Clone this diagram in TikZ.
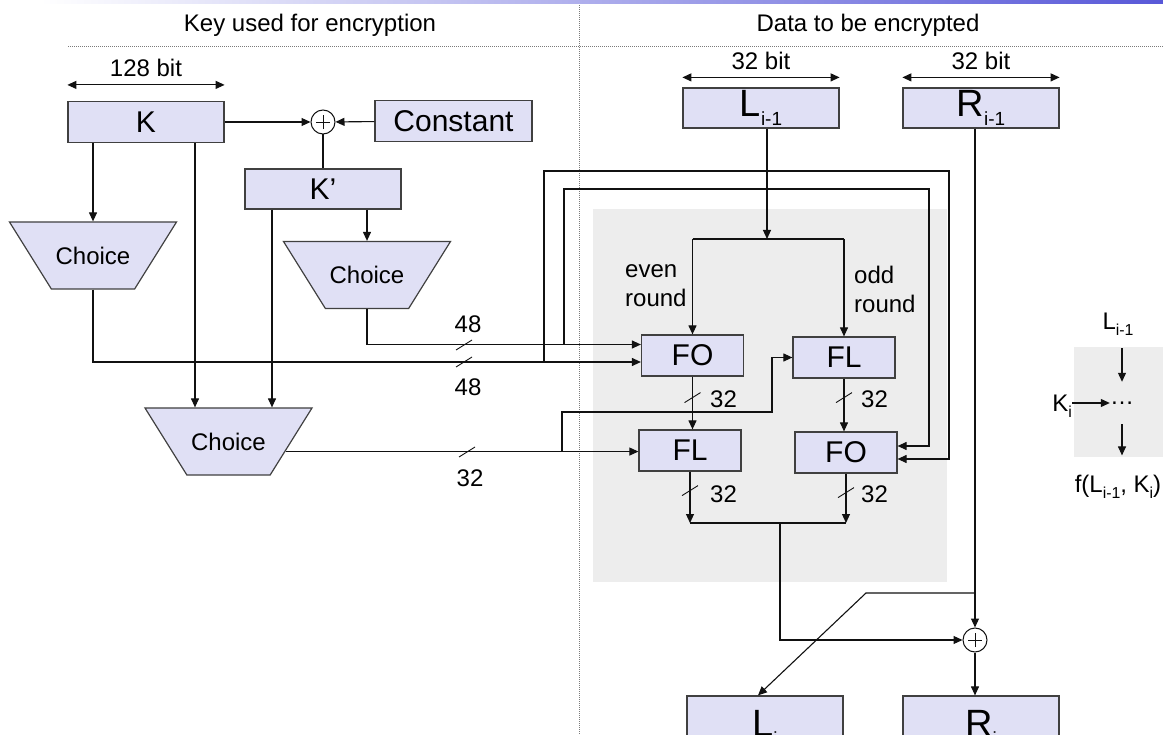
\documentclass[tikz,border=0pt]{standalone}
\usepackage{fontspec}
\setmainfont{Liberation Sans}
\usepackage{graphicx}
\usetikzlibrary{positioning,calc,arrows.meta,shapes.geometric}

\definecolor{BoxFill}{HTML}{E0E0F5}
\definecolor{BoxLine}{HTML}{404040}
\definecolor{PanelBg}{HTML}{EDEDED}
\definecolor{RuleGray}{HTML}{7A7A7A}
\definecolor{BarBlue}{HTML}{5858D8}
\definecolor{WireBlk}{HTML}{111111}

\newcommand{\sbs}[2][0.62]{\raisebox{-0.25em}{\scalebox{#1}{#2}}}

\tikzset{
  blk/.style={draw=BoxLine,fill=BoxFill,line width=1.2pt,minimum width=156pt,
    minimum height=41pt,inner sep=0pt,font=\fontsize{30}{30}\selectfont},
  blkd/.style={blk,font=\fontsize{38}{38}\selectfont},
  fbox/.style={blk,minimum width=102pt},
  choice/.style={trapezium,shape border rotate=180,trapezium angle=58,
    trapezium stretches body,minimum width=167pt,inner xsep=0pt,
    inner ysep=24.8pt,text height=17.4pt,text depth=0pt,
    draw=BoxLine,fill=BoxFill,line width=1.2pt,
    font=\fontsize{24}{24}\selectfont},
  xorc/.style={circle,draw=WireBlk,line width=1pt,minimum size=24pt,inner sep=0pt,
    fill=white,path picture={
      \draw[line width=0.7pt] ([xshift=-7pt]path picture bounding box.center)
        -- ([xshift=7pt]path picture bounding box.center)
        ([yshift=-7pt]path picture bounding box.center)
        -- ([yshift=7pt]path picture bounding box.center);}},
  wire/.style={draw=WireBlk,line width=1.1pt},
  arr/.style={wire,-{Triangle[length=9pt,width=8pt]}},
  dbl/.style={wire,{Triangle[length=9pt,width=8pt]}-{Triangle[length=9pt,width=8pt]}},
  lbl/.style={font=\fontsize{24}{29}\selectfont,inner sep=0pt},
  sep/.style={draw=RuleGray,line width=0.8pt,dash pattern=on 1pt off 1pt},
  busmark/.pic={\draw[wire,line width=0.9pt] (-8,5) -- (8,-5);},
}

\begin{document}
\begin{tikzpicture}[x=1pt,y=-1pt]
\useasboundingbox (0,0) rectangle (1163,735);
\shade[left color=white,right color=BarBlue] (40,0) rectangle (1163,3.5);
\draw[sep] (68,46) -- (1163,46);
\draw[sep] (579,5) -- (579,735);
\node[lbl,anchor=base] (hkey) at (310,32) {Key used for encryption};
\node[lbl,anchor=base] (hdat) at (868,32) {Data to be encrypted};

% round function panel
\fill[PanelBg] (593,209) rectangle (947,582);

% key side
\node[blk] (K) at (146,122) {K};
\node[xorc] (xk) at (323,122) {};
\node[blk,minimum width=157pt] (cst) at (453.5,121) {Constant};
\node[blk,minimum height=40pt] (Kp) at (323,189) {K'};
\node[choice] (ch1) at (93,255.5) {Choice};
\node[choice] (ch2) at (367,275) {Choice};
\node[choice] (ch3) at (228.5,441.5) {Choice};

\draw[dbl] ([yshift=16pt]K.north west) -- ([yshift=16pt]K.north east);
\node[lbl,anchor=base] (wK) at ([yshift=24pt]K.north) {128 bit};

\draw[arr] (K) -- (xk);
\draw[arr] (cst) -- (xk);
\draw[wire] (xk) -- (Kp);
\coordinate (kx) at (195,0);
\coordinate (kpx) at (272,0);
\draw[arr] (K.south -| ch1.north) -- (ch1.north);
\draw[arr] (K.south -| kx) -- (ch3.north -| kx);
\draw[arr] (Kp.south -| kpx) -- (ch3.north -| kpx);
\draw[arr] (Kp.south -| ch2.north) -- (ch2.north);

% data side
\node[blkd,minimum height=40pt] (Lp) at (761,108) {L\sbs[0.5]{i-1}};
\node[blkd,minimum height=40pt] (Rp) at (981,108) {R\sbs[0.5]{i-1}};
\draw[dbl] ([yshift=10pt]Lp.north west) -- ([yshift=10pt]Lp.north east);
\draw[dbl] ([yshift=10pt]Rp.north west) -- ([yshift=10pt]Rp.north east);
\node[lbl,anchor=base] (wL) at ([yshift=18pt]Lp.north) {32 bit};
\node[lbl,anchor=base] (wR) at ([yshift=18pt]Rp.north) {32 bit};

\node[fbox] (FO1) at (692.5,355.5) {FO};
\node[fbox] (FL1) at (844,357.5) {FL};
\node[fbox] (FL2) at (690,450.5) {FL};
\node[fbox] (FO2) at (846,452.5) {FO};
\node[xorc] (xr) at (975,640) {};
\node[blkd,minimum height=64pt] (Li) at (765,728) {L\sbs[0.5]{i}};
\node[blkd,minimum height=64pt] (Ri) at (981,728) {R\sbs[0.5]{i}};

% subkeys into the round
\coordinate (fa) at ([yshift=11pt]FO1.west);
\coordinate (fb) at ([yshift=-6.5pt]FO1.west);
\draw[arr] (ch2.south) |- (fa);
\draw[arr] (ch1.south) |- (fb);
\pic at (464,345) {busmark};
\pic at (464,362) {busmark};
\node[lbl,anchor=base] (n48a) at (468,333) {48};
\node[lbl,anchor=base] (n48b) at (468,396) {48};
\draw[arr] (ch3.-10) -- (ch3.-10 -| FL2.west);
\pic at (467,452) {busmark};
\node[lbl,anchor=base] (n32a) at (470,486) {32};

\coordinate (lo) at (544,171);
\coordinate (loR) at (949,171);
\coordinate (li) at (564,189);
\coordinate (liR) at (929,189);
\draw[arr] (lo |- fb) -- (lo) -- (loR) |- ([yshift=-6.5pt]FO2.east);
\draw[arr] (li |- fa) -- (li) -- (liR) |- ([yshift=6.5pt]FO2.east);
\coordinate (tb) at (562,412);
\coordinate (tk) at (772,412);
\draw[arr] (ch3.-10 -| tb) -- (tb) -- (tk) |- (FL1.west);

% round
\coordinate (sp) at (767,239);
\draw[arr] (Lp.south -| sp) -- (sp);
\draw[wire] (sp -| FO1.north) -- (sp -| FL1.north);
\draw[arr] (sp -| FO1.north) -- (FO1.north);
\draw[arr] (sp -| FL1.north) -- (FL1.north);
\node[lbl,align=left,anchor=base west] (ev) at (625,307) {even\\round};
\node[lbl,align=left,anchor=base west] (od) at (854,313) {odd\\round};

\draw[arr] (FO1.south) -- (FO1.south |- FL2.north);
\draw[arr] (FL1.south) -- (FL1.south |- FO2.north);
\pic at ($(FO1.south)+(0,21)$) {busmark};
\pic at ($(FL1.south)+(0,19)$) {busmark};
\node[lbl,anchor=base west] (n32b) at (710,408) {32};
\node[lbl,anchor=base west] (n32c) at (861,408) {32};

\coordinate (mg) at (780,523);
\draw[arr] (FL2.south) -- (FL2.south |- mg);
\draw[arr] (FO2.south) -- (FO2.south |- mg);
\draw[wire] (FL2.south |- mg) -- (FO2.south |- mg);
\pic at ($(FL2.south)+(0,19)$) {busmark};
\pic at ($(FO2.south)+(0,19)$) {busmark};
\node[lbl,anchor=base west] (n32d) at (710,502) {32};
\node[lbl,anchor=base west] (n32e) at (861,502) {32};

\draw[arr] (mg) |- (xr);
\draw[arr] (Rp.south -| xr) -- (xr);
\draw[arr] (xr) -- (xr |- Ri.north);
\coordinate (dg) at (866,593);
\draw[arr] (xr |- dg) -- (dg) -- ([xshift=-7pt]Li.north);

% legend
\fill[PanelBg] (1074,347) rectangle (1163,457);
\node[lbl,anchor=base] (gL) at (1118,330) {L\sbs[0.66]{i-1}};
\node[lbl,minimum height=42pt] (gdot) at (1122,403) {\dots};
\node[lbl,anchor=base east] (gK) at (1072,412) {K\sbs[0.66]{i}};
\node[lbl,anchor=base] (gf) at (1118,493) {f(L\sbs[0.66]{i-1}, K\sbs[0.66]{i})};
\draw[arr] (gK.east |- gdot) -- (gdot.west);
\draw[arr,shorten <=12pt] (gL.south -| gdot) -- (gdot.north);
\draw[arr,shorten >=20pt] (gdot.south) -- (gdot.south |- gf.north);
\end{tikzpicture}
\end{document}
